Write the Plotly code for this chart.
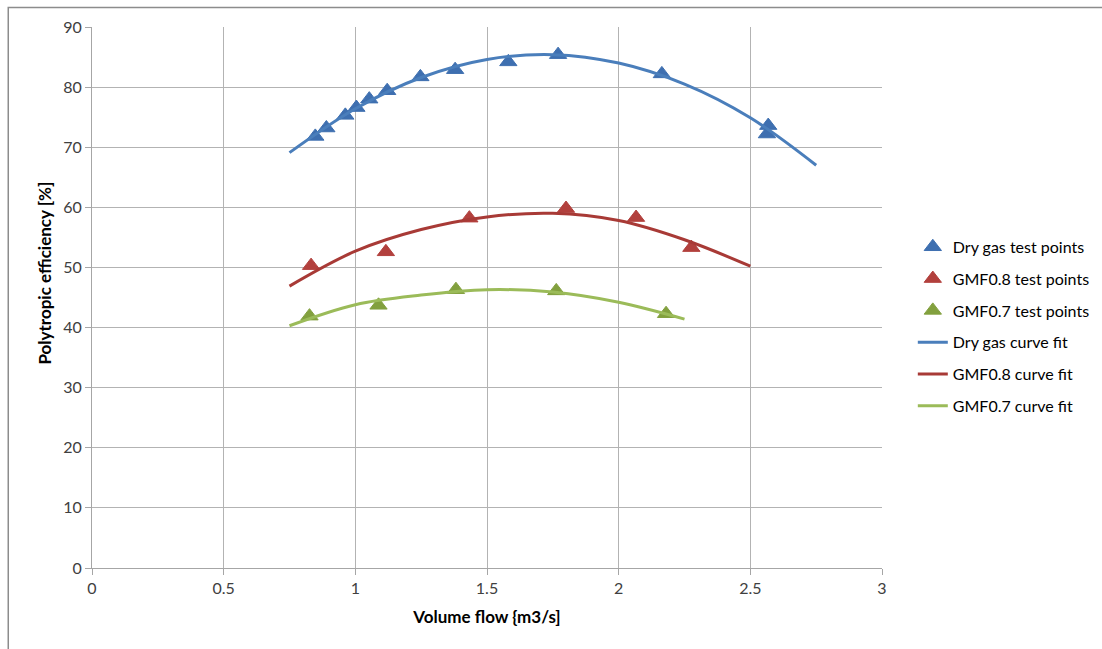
import plotly.graph_objects as go

# Measured test points: volume flow [m3/s] vs polytropic efficiency [%]
dry_flow = [0.848, 0.890, 0.962, 1.004, 1.053, 1.121, 1.247, 1.379, 1.581, 1.770, 2.164, 2.568, 2.563]
dry_eff = [71.8, 73.2, 75.3, 76.6, 78.0, 79.4, 81.7, 82.9, 84.2, 85.4, 82.2, 73.6, 72.2]

gmf08_flow = [0.832, 1.116, 1.433, 1.800, 2.066, 2.276]
gmf08_eff = [50.3, 52.6, 58.2, 59.8, 58.3, 53.3]

gmf07_flow = [0.826, 1.088, 1.382, 1.763, 2.180]
gmf07_eff = [41.9, 43.7, 46.3, 46.1, 42.3]

# Curve-fit lines, sampled along the flow axis
dry_fit_flow = [0.75, 1.0, 1.25, 1.5, 1.75, 2.0, 2.25, 2.5, 2.75]
dry_fit_eff = [69.1, 76.4, 81.6, 84.6, 85.4, 84.0, 80.5, 74.9, 67.0]

gmf08_fit_flow = [0.75, 1.0, 1.25, 1.5, 1.75, 2.0, 2.25, 2.5]
gmf08_fit_eff = [46.9, 52.7, 56.3, 58.4, 59.0, 57.8, 54.6, 50.2]

gmf07_fit_flow = [0.75, 1.0, 1.25, 1.5, 1.75, 2.0, 2.25]
gmf07_fit_eff = [40.3, 43.8, 45.4, 46.3, 45.9, 44.2, 41.4]

x_ticks = [0, 0.5, 1, 1.5, 2, 2.5, 3]
x_tick_text = ["0", "0.5", "1", "1.5", "2", "2.5", "3"]
y_ticks = [0, 10, 20, 30, 40, 50, 60, 70, 80, 90]

FONT = "Lato, 'Open Sans', sans-serif"
BLUE_M, BLUE_L = "#3E6FB0", "#4A7EBB"
RED_M, RED_L = "#B2403D", "#A83A36"
GREEN_M, GREEN_L = "#82A03E", "#9BBB59"

fig = go.Figure()

def points(x, y, name, color, grp):
    fig.add_trace(go.Scatter(
        x=x, y=y, mode="markers", name=name, legendgroup=grp,
        marker=dict(symbol="triangle-up", size=15, color=color,
                    line=dict(color=color, width=1)),
    ))

def fit(x, y, name, color, grp):
    fig.add_trace(go.Scatter(
        x=x, y=y, mode="lines", name=name, legendgroup=grp,
        line=dict(color=color, width=3, shape="spline", smoothing=1.0),
    ))

points(dry_flow, dry_eff, "Dry gas test points", BLUE_M, "a")
points(gmf08_flow, gmf08_eff, "GMF0.8 test points", RED_M, "b")
points(gmf07_flow, gmf07_eff, "GMF0.7 test points", GREEN_M, "c")
fit(dry_fit_flow, dry_fit_eff, "Dry gas curve fit", BLUE_L, "d")
fit(gmf08_fit_flow, gmf08_fit_eff, "GMF0.8 curve fit", RED_L, "e")
fit(gmf07_fit_flow, gmf07_fit_eff, "GMF0.7 curve fit", GREEN_L, "f")

axis_common = dict(
    showgrid=True, gridcolor="#B3B3B3", gridwidth=1,
    showline=True, linecolor="#A6A6A6", linewidth=1,
    ticks="outside", ticklen=6, tickcolor="#A6A6A6",
    tickfont=dict(family=FONT, size=16, color="#404040"),
    zeroline=False,
)

fig.update_layout(
    width=1102, height=649,
    margin=dict(l=92, r=220, t=27, b=81, autoexpand=False),
    paper_bgcolor="white", plot_bgcolor="white",
    font=dict(family=FONT, size=16, color="#000000"),
    xaxis=dict(range=[0, 3], tickvals=x_ticks, ticktext=x_tick_text,
               title=dict(text="<b>Volume flow {m3/s]</b>", standoff=14,
                          font=dict(family=FONT, size=17, color="#000000")),
               **axis_common),
    yaxis=dict(range=[0, 90], tickvals=y_ticks, **axis_common),
    legend=dict(x=1.039, y=0.625, xanchor="left", yanchor="top",
                tracegroupgap=8, bgcolor="rgba(0,0,0,0)",
                font=dict(family=FONT, size=16, color="#000000")),
    showlegend=True,
    annotations=[dict(text="<b>Polytropic efficiency [%]</b>", textangle=-90,
                      xref="paper", yref="paper", x=-0.0595, y=0.546,
                      xanchor="center", yanchor="middle", showarrow=False,
                      font=dict(family=FONT, size=17, color="#000000"))],
    shapes=[dict(type="rect", xref="paper", yref="paper",
                 x0=-0.106, x1=1.5, y0=-0.3, y1=1.036,
                 line=dict(color="#8C8C8C", width=1.5), layer="below")],
)

fig.write_html("out.html")
